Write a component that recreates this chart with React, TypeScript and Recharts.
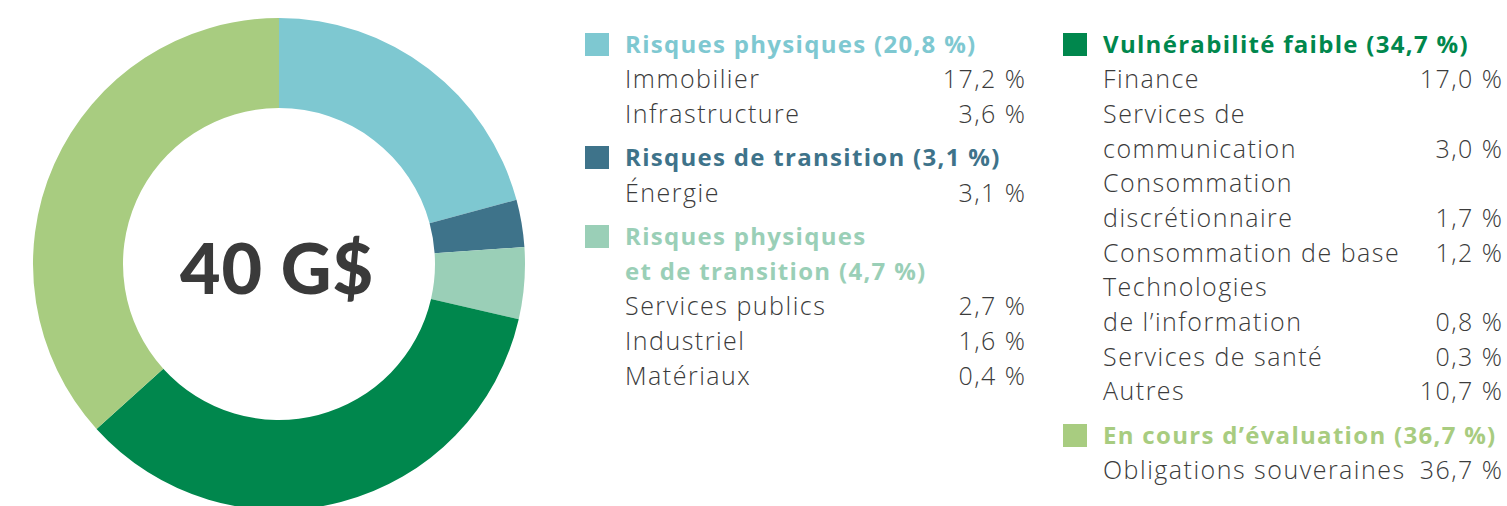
import React from 'react';
import { PieChart, Pie, Cell, Legend, Label } from 'recharts';

const categories = [
  'Risques physiques',
  'Risques de transition',
  'Risques physiques et de transition',
  'Vulnérabilité faible',
  'En cours d’évaluation',
];
const values = [20.8, 3.1, 4.7, 34.7, 36.7];
const colors = ['#7ec8d1', '#3e738a', '#9acfb7', '#00874d', '#a8cc80'];
const headerLines = [
  ['Risques physiques (20,8 %)'],
  ['Risques de transition (3,1 %)'],
  ['Risques physiques', 'et de transition (4,7 %)'],
  ['Vulnérabilité faible (34,7 %)'],
  ['En cours d’évaluation (36,7 %)'],
];
const subNames = [
  [['Immobilier'], ['Infrastructure']],
  [['Énergie']],
  [['Services publics'], ['Industriel'], ['Matériaux']],
  [
    ['Finance'],
    ['Services de', 'communication'],
    ['Consommation', 'discrétionnaire'],
    ['Consommation de base'],
    ['Technologies', 'de l’information'],
    ['Services de santé'],
    ['Autres'],
  ],
  [['Obligations souveraines']],
];
const subValues = [
  ['17,2 %', '3,6 %'],
  ['3,1 %'],
  ['2,7 %', '1,6 %', '0,4 %'],
  ['17,0 %', '3,0 %', '1,7 %', '1,2 %', '0,8 %', '0,3 %', '10,7 %'],
  ['36,7 %'],
];
const totalLabel = '40 G$';
const leftGroups = [0, 1, 2];
const rightGroups = [3, 4];

const data = categories.map((name, i) => ({ name, value: values[i] }));

const LINE = 34.7;
const FONT = '"Open Sans", sans-serif';

const Group = ({ gi, first }: { gi: number; first: boolean }) => (
  <div style={{ marginTop: first ? 0 : 9.5 }}>
    <div style={{ position: 'relative' }}>
      <div
        style={{
          position: 'absolute',
          left: -40,
          top: 6,
          width: 24,
          height: 23,
          background: colors[gi],
        }}
      />
      {headerLines[gi].map((l, k) => (
        <div
          key={k}
          style={{
            color: colors[gi],
            fontWeight: 700,
            fontSize: 24,
            letterSpacing: 1.3,
            height: LINE,
            lineHeight: `${LINE}px`,
            whiteSpace: 'nowrap',
          }}
        >
          {l}
        </div>
      ))}
    </div>
    {subNames[gi].map((lines, j) => (
      <div key={j}>
        {lines.map((l, k) => (
          <div
            key={k}
            style={{
              display: 'flex',
              justifyContent: 'space-between',
              height: LINE,
              lineHeight: `${LINE}px`,
              fontWeight: 300,
              fontSize: 25,
              letterSpacing: 1.5,
              color: '#3b3b3b',
              whiteSpace: 'nowrap',
            }}
          >
            <span>{l}</span>
            <span style={{ marginRight: -1.5 }}>{k === lines.length - 1 ? subValues[gi][j] : ''}</span>
          </div>
        ))}
      </div>
    ))}
  </div>
);

const LegendContent = () => (
  <div style={{ position: 'relative', width: 1507, height: 506, fontFamily: FONT }}>
    <div style={{ position: 'absolute', left: 625, top: 26.6, width: 400 }}>
      {leftGroups.map((gi, i) => (
        <Group key={gi} gi={gi} first={i === 0} />
      ))}
    </div>
    <div style={{ position: 'absolute', left: 1103, top: 26.6, width: 399 }}>
      {rightGroups.map((gi, i) => (
        <Group key={gi} gi={gi} first={i === 0} />
      ))}
    </div>
  </div>
);

export default function App() {
  return (
    <div
      style={{
        position: 'absolute',
        left: 0,
        top: 0,
        width: 1507,
        height: 506,
        overflow: 'hidden',
        background: '#ffffff',
      }}
    >
      <PieChart width={1507} height={506} margin={{ top: 0, right: 0, bottom: 0, left: 0 }}>
        <Pie
          data={data}
          dataKey="value"
          nameKey="name"
          cx={279}
          cy={264}
          innerRadius={156}
          outerRadius={246}
          startAngle={90}
          endAngle={-270}
          stroke="none"
          isAnimationActive={false}
        >
          {data.map((d, i) => (
            <Cell key={d.name} fill={colors[i]} />
          ))}
          <Label
            position="center"
            content={(props: any) => {
              const vb = props.viewBox || {};
              const cx = vb.cx ?? 279;
              const cy = vb.cy ?? 264;
              return (
                <text
                  x={cx - 2}
                  y={cy + 30}
                  textAnchor="middle"
                  fill="#3a3a3a"
                  style={{ fontFamily: 'Lato, sans-serif', fontWeight: 900, fontSize: 70, letterSpacing: 1 }}
                >
                  {totalLabel}
                </text>
              );
            }}
          />
        </Pie>
        <Legend
          content={() => <LegendContent />}
          wrapperStyle={{ left: 0, top: 0, width: 1507, height: 506 }}
        />
      </PieChart>
    </div>
  );
}
